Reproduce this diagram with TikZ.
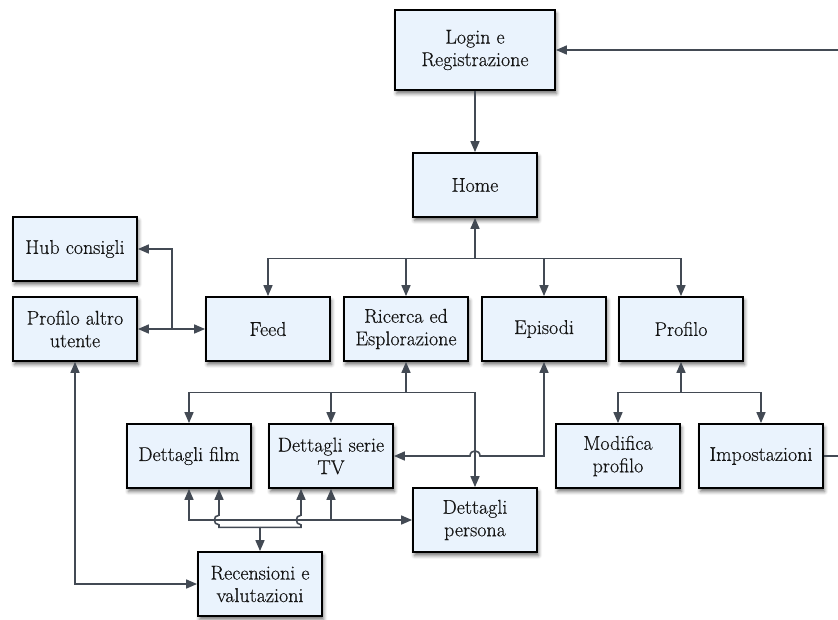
\documentclass[tikz,border=0pt]{standalone}
\usepackage{fontspec}
\newfontfamily\boxfont{Latin Modern Roman}[RawFeature={embolden=0.4}]
\usetikzlibrary{arrows.meta,shadows.blur}

\definecolor{boxfill}{HTML}{EAF3FD}
\definecolor{wire}{HTML}{434A54}
\definecolor{ink}{HTML}{151515}

\tikzset{
  screen/.style={draw=black, line width=1.8pt, fill=boxfill, text=ink,
    align=center, minimum width=124pt, minimum height=64pt, inner sep=2pt,
    blur shadow={shadow xshift=1.5pt, shadow yshift=-3.5pt,
      shadow blur radius=3.5pt, shadow opacity=55},
    font=\boxfont\fontsize{20}{22.5}\selectfont},
  wireline/.style={draw=wire, line width=1.6pt, line join=miter},
  >={Triangle[length=11pt,width=9pt]}
}

\begin{document}
\begin{tikzpicture}[x=1pt,y=-1pt]
  \useasboundingbox (0,0) rectangle (838,619);
  \clip (0,0) rectangle (838,619);

  % screens
  \node[screen, minimum width=160pt, minimum height=80pt] (login) at (475,50) {Login e\\Registrazione};
  \node[screen] (home)     at (475,185) {Home};
  \node[screen] (hub)      at (75,249)  {Hub consigli};
  \node[screen] (altro)    at (75,329)  {Profilo altro\\utente};
  \node[screen] (feed)     at (268,329) {Feed};
  \node[screen] (ricerca)  at (406,329) {Ricerca ed\\Esplorazione};
  \node[screen] (episodi)  at (544,329) {Episodi};
  \node[screen] (profilo)  at (681,329) {Profilo};
  \node[screen] (film)     at (189,456) {Dettagli film};
  \node[screen] (serie)    at (331,456) {Dettagli serie\\TV};
  \node[screen] (persona)  at (475,520) {Dettagli\\persona};
  \node[screen] (modifica) at (618,456) {Modifica\\profilo};
  \node[screen] (impost)   at (761,456) {Impostazioni};
  \node[screen] (recens)   at (260,584) {Recensioni e\\valutazioni};

  % junction points
  \coordinate (hj) at (475,258.5);
  \coordinate (fj) at (171.7,329);
  \coordinate (rj) at (406,392.3);
  \coordinate (pj) at (681,392.3);
  \coordinate (rb) at (260,527.3);

  % login / home
  \draw[wireline,->] (login.south) -- (home.north);
  \draw[wireline,->] (impost.east) -- ++(30,0) |- (login.east);

  % home menu
  \draw[wireline,<-] (home.south) -- (hj);
  \draw[wireline,<->] (feed.north) |- (hj) -| (profilo.north);
  \draw[wireline,->] (ricerca.north |- hj) -- (ricerca.north);
  \draw[wireline,->] (episodi.north |- hj) -- (episodi.north);

  % feed links
  \draw[wireline,<->] (altro.east) -- (feed.west);
  \draw[wireline,->] (fj) |- (hub.east);
  \draw[wireline,<->] (altro.south) |- (recens.west);

  % search results
  \draw[wireline,<-] (ricerca.south) -- (rj);
  \draw[wireline,<->] (film.north) |- (rj) -| (persona.north);
  \draw[wireline,->] (serie.north |- rj) -- (serie.north);

  % episodes to series, hopping over the persona line
  \draw[wireline,<->] (episodi.south) |- (480,456)
    .. controls (480,449.2) and (470,449.2) .. (470,456) -- (serie.east);

  % profile menu
  \draw[wireline,<-] (profilo.south) -- (pj);
  \draw[wireline,<->] (modifica.north) |- (pj) -| (impost.north);

  % persona bus
  \draw[wireline,<->] (film.south) |- (persona.west);
  \draw[wireline,->] (serie.south |- persona.west) -- (serie.south);

  % reviews bus, hopping over the persona bus
  \draw[wireline,<-] (recens.north) -- (rb);
  \draw[wireline,->] (rb) -- (219,527.3) -- (219,524.8)
    .. controls (212.8,524.8) and (212.8,515.2) .. (219,515.2)
    -- ([xshift=30pt]film.south);
  \draw[wireline,->] (rb) -- (301,527.3) -- (301,524.8)
    .. controls (294.8,524.8) and (294.8,515.2) .. (301,515.2)
    -- ([xshift=-30pt]serie.south);
\end{tikzpicture}
\end{document}
